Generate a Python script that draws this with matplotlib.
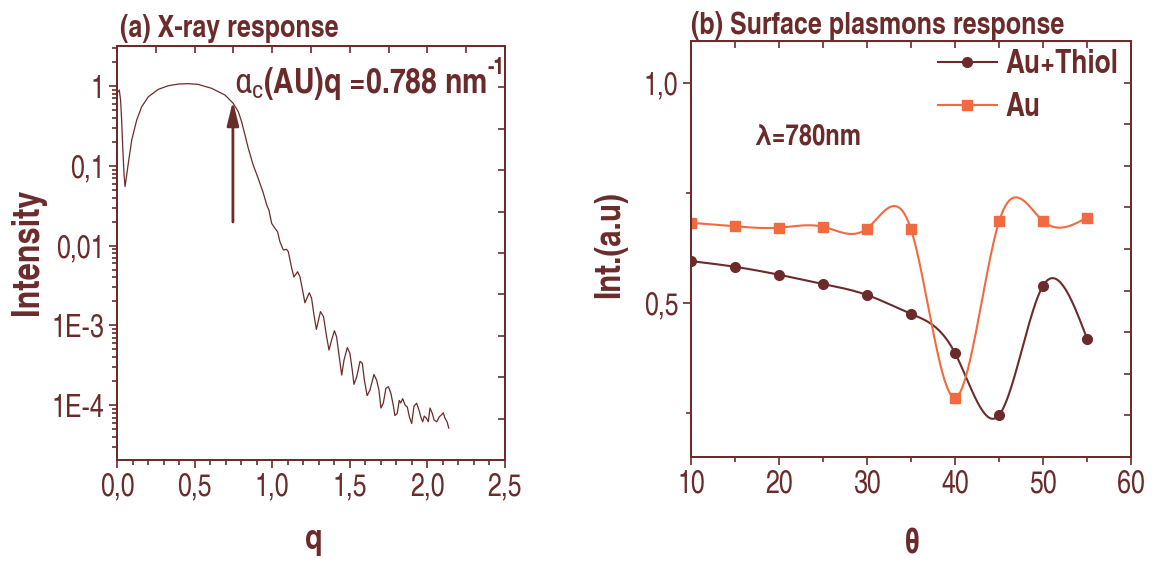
#!/usr/bin/env python3
"""X-ray reflectivity and surface plasmon response, two panels."""

import numpy as np
import matplotlib as mpl

mpl.use("Agg")
import matplotlib.pyplot as plt
from matplotlib.ticker import (FixedLocator, FuncFormatter, LogLocator,
                               MultipleLocator, NullFormatter)

# (a) X-ray response
q_vals = [0.005, 0.015, 0.023, 0.030, 0.035, 0.041, 0.046, 0.052, 0.058, 0.073,
          0.095, 0.127, 0.159, 0.202, 0.266, 0.331, 0.395, 0.457, 0.522, 0.610,
          0.696, 0.749, 0.782, 0.803, 0.825, 0.846, 0.878, 0.910, 0.943, 0.965,
          0.979, 0.997, 1.018, 1.035, 1.050, 1.072, 1.093, 1.104, 1.126, 1.140,
          1.164, 1.179, 1.200, 1.211, 1.239, 1.254, 1.271, 1.285, 1.311, 1.331,
          1.351, 1.366, 1.383, 1.401, 1.415, 1.432, 1.448, 1.463, 1.484, 1.501,
          1.516, 1.527, 1.545, 1.566, 1.581, 1.594, 1.612, 1.630, 1.656, 1.673,
          1.688, 1.701, 1.716, 1.733, 1.749, 1.765, 1.780, 1.791, 1.806, 1.819,
          1.828, 1.841, 1.856, 1.871, 1.884, 1.899, 1.914, 1.931, 1.946, 1.960,
          1.970, 1.980, 1.995, 2.006, 2.017, 2.032, 2.043, 2.061, 2.077, 2.093,
          2.103, 2.114, 2.127, 2.138]
intensity = [0.841, 0.891, 0.668, 0.375, 0.211, 0.118, 0.0745, 0.0551, 0.0664, 0.108,
             0.211, 0.375, 0.550, 0.734, 0.909, 1.009, 1.059, 1.072, 1.050, 0.936,
             0.771, 0.607, 0.476, 0.357, 0.243, 0.166, 0.102, 0.0697, 0.0456, 0.0323,
             0.0279, 0.0190, 0.0165, 0.0149, 0.0112, 0.00881, 0.00899, 0.00839, 0.00520, 0.00405,
             0.00471, 0.00408, 0.00252, 0.00192, 0.00257, 0.00219, 0.00129, 0.000893, 0.00149, 0.00129,
             0.000722, 0.000492, 0.000656, 0.000859, 0.000722, 0.000406, 0.000239, 0.000368, 0.000528, 0.000447,
             0.000276, 0.000183, 0.000228, 0.000355, 0.000335, 0.000207, 0.000132, 0.000155, 0.000243, 0.000207,
             0.000155, 9.23e-5, 1.06e-4, 1.63e-4, 1.71e-4, 1.41e-4, 1.01e-4, 7.43e-5, 7.91e-5, 1.15e-4,
             1.07e-4, 1.21e-4, 1.01e-4, 9.49e-5, 7.18e-5, 5.90e-5, 9.77e-5, 1.06e-4, 8.71e-5, 6.92e-5,
             6.21e-5, 7.33e-5, 6.85e-5, 6.21e-5, 9.23e-5, 7.91e-5, 6.53e-5, 6.21e-5, 7.18e-5, 7.64e-5,
             8.05e-5, 6.85e-5, 6.21e-5, 5.18e-5]
log_ticks = [1, 0.1, 0.01, 1e-3, 1e-4]
log_labels = ["1", "0,1", "0,01", "1E-3", "1E-4"]
q_critical = 0.747

# (b) Surface plasmons response
theta = [10, 15, 20, 25, 30, 35, 40, 45, 50, 55]
au_thiol = [0.595, 0.582, 0.564, 0.543, 0.518, 0.475, 0.386, 0.245, 0.539, 0.419]
au = [0.682, 0.674, 0.671, 0.673, 0.669, 0.667, 0.285, 0.685, 0.686, 0.694]

DARK = "#6b2b2b"
ORANGE = "#f26a3f"

FAMILY = ["TeX Gyre Heros Cn", "Roboto Condensed", "Liberation Sans", "DejaVu Sans"]
plt.rcParams["font.family"] = FAMILY
plt.rcParams["mathtext.fontset"] = "custom"
plt.rcParams["mathtext.rm"] = "TeX Gyre Heros Cn:bold"
plt.rcParams["mathtext.it"] = "Roboto Condensed"
plt.rcParams["mathtext.bf"] = "TeX Gyre Heros Cn:bold"
plt.rcParams["text.color"] = DARK
plt.rcParams["axes.edgecolor"] = DARK
plt.rcParams["xtick.color"] = DARK
plt.rcParams["ytick.color"] = DARK


def spline_line(x, y, n=400):
    """Natural cubic spline through the points, used as the connecting line."""
    x = np.asarray(x, float)
    y = np.asarray(y, float)
    h = np.diff(x)
    m = len(x)
    a = np.zeros((m, m))
    r = np.zeros(m)
    a[0, 0] = a[-1, -1] = 1
    for i in range(1, m - 1):
        a[i, i - 1] = h[i - 1]
        a[i, i] = 2 * (h[i - 1] + h[i])
        a[i, i + 1] = h[i]
        r[i] = 6 * ((y[i + 1] - y[i]) / h[i] - (y[i] - y[i - 1]) / h[i - 1])
    mm = np.linalg.solve(a, r)
    xs = np.linspace(x[0], x[-1], n)
    k = np.clip(np.searchsorted(x, xs) - 1, 0, m - 2)
    t0 = x[k + 1] - xs
    t1 = xs - x[k]
    hk = h[k]
    ys = ((mm[k] * t0 ** 3 + mm[k + 1] * t1 ** 3) / (6 * hk)
          + (y[k] / hk - mm[k] * hk / 6) * t0
          + (y[k + 1] / hk - mm[k + 1] * hk / 6) * t1)
    return xs, ys


def comma(v, _pos):
    return f"{v:.1f}".replace(".", ",")


def style_frame(ax):
    for spine in ax.spines.values():
        spine.set_color(DARK)
        spine.set_linewidth(1.3)


fig = plt.figure(figsize=(11.56, 5.63), dpi=100)

# ---- panel (a)
ax1 = fig.add_axes([0.1012, 0.1829, 0.3356, 0.7353])
ax1.plot(q_vals, intensity, color=DARK, lw=0.9)
ax1.set_yscale("log")
ax1.set_xlim(0, 2.5)
ax1.set_ylim(2.06e-5, 3.17)
ax1.xaxis.set_major_locator(MultipleLocator(0.5))
ax1.xaxis.set_minor_locator(MultipleLocator(0.1))
ax1.xaxis.set_major_formatter(FuncFormatter(comma))
ax1.set_yticks(log_ticks, log_labels)
ax1.yaxis.set_minor_locator(LogLocator(base=10, subs=np.arange(2, 10)))
ax1.yaxis.set_minor_formatter(NullFormatter())
ax1.tick_params(which="both", direction="out", labelsize=22, width=1.2, pad=3)
ax1.tick_params(which="major", length=6)
ax1.tick_params(which="minor", length=3.5)
style_frame(ax1)

top1 = ax1.secondary_xaxis("top")
top1.set_xticks(np.arange(0, 2.51, 0.25))
top1.xaxis.set_major_formatter(NullFormatter())
top1.tick_params(direction="in", length=5, width=1.2)
top1.spines["top"].set_color(DARK)

right1 = ax1.twinx()
right1.set_ylim(0, 10)
right1.set_yticks(range(1, 10))
right1.tick_params(direction="in", length=5, width=1.2, labelright=False)
style_frame(right1)

ax1.annotate("", xy=(q_critical, 0.649), xytext=(q_critical, 0.0198),
             arrowprops=dict(arrowstyle="-|>,head_length=0.9,head_width=0.22",
                             color=DARK, lw=2, mutation_scale=16,
                             shrinkA=0, shrinkB=0))
note = ax1.text(0.3015, 0.886, r"$\alpha_{c}$(AU)q =0.788 nm", transform=ax1.transAxes,
                fontsize=25, fontweight="bold", ha="left", va="baseline")
ax1.annotate("-1", xy=(1, 1), xycoords=note, xytext=(0, 6), textcoords="offset points",
             fontsize=17, fontweight="bold", ha="left", va="top")

# ---- panel (b)
ax2 = fig.add_axes([0.5978, 0.1883, 0.3806, 0.7389])
xs, ys = spline_line(theta, au_thiol)
ax2.plot(xs, ys, color=DARK, lw=1.5)
ax2.plot(theta, au_thiol, "o", color=DARK, ms=7)
xs, ys = spline_line(theta, au)
ax2.plot(xs, ys, color=ORANGE, lw=1.5)
ax2.plot(theta, au, "s", color=ORANGE, ms=6.5)
h1, = ax2.plot([], [], "-o", color=DARK, lw=1.5, ms=7)
h2, = ax2.plot([], [], "-s", color=ORANGE, lw=1.5, ms=6.5)
leg = ax2.legend([h1, h2], ["Au+Thiol", "Au"], loc="upper right",
                 bbox_to_anchor=(0.972, 0.98), frameon=False, borderpad=0,
                 borderaxespad=0, handlelength=1.85, handletextpad=0.28,
                 labelspacing=0.38, prop={"weight": "bold", "size": 23})
for t in leg.get_texts():
    t.set_color(DARK)

ax2.set_xlim(10, 60)
ax2.set_ylim(0.15, 1.095)
ax2.xaxis.set_major_locator(MultipleLocator(10))
ax2.xaxis.set_minor_locator(MultipleLocator(5))
ax2.yaxis.set_major_locator(FixedLocator([0.5, 1.0]))
ax2.yaxis.set_minor_locator(FixedLocator([0.25, 0.75]))
ax2.yaxis.set_major_formatter(FuncFormatter(comma))
ax2.tick_params(which="both", direction="out", labelsize=22, width=1.2, pad=3)
ax2.tick_params(which="major", length=6)
ax2.tick_params(which="minor", length=3.5)
style_frame(ax2)

top2 = ax2.secondary_xaxis("top")
top2.set_xticks(np.arange(10, 61, 5))
top2.xaxis.set_major_formatter(NullFormatter())
top2.tick_params(direction="in", length=5, width=1.2)
top2.spines["top"].set_color(DARK)

right2 = ax2.twinx()
right2.set_ylim(0, 10)
right2.set_yticks(range(1, 10))
right2.tick_params(direction="in", length=5, width=1.2, labelright=False)
style_frame(right2)

ax2.text(0.141, 0.769, "λ=780nm", transform=ax2.transAxes, fontsize=21,
         fontweight="bold", ha="left", va="center")

# titles and axis labels
fig.text(0.1038, 0.934, "(a) X-ray response", fontsize=22, fontweight="bold", va="baseline")
fig.text(0.5978, 0.940, "(b) Surface plasmons response", fontsize=22, fontweight="bold", va="baseline")
fig.text(0.0242, 0.552, "Intensity", fontsize=27, fontweight="bold", rotation=90,
         ha="center", va="center")
fig.text(0.271, 0.041, "q", fontsize=25, fontweight="bold", ha="center", va="center")
fig.text(0.528, 0.565, "Int.(a.u)", fontsize=26, fontweight="bold", rotation=90,
         ha="center", va="center")
fig.text(0.789, 0.032, "θ", fontsize=25, fontweight="bold", ha="center", va="center")

fig.savefig("out.png", dpi=100)
